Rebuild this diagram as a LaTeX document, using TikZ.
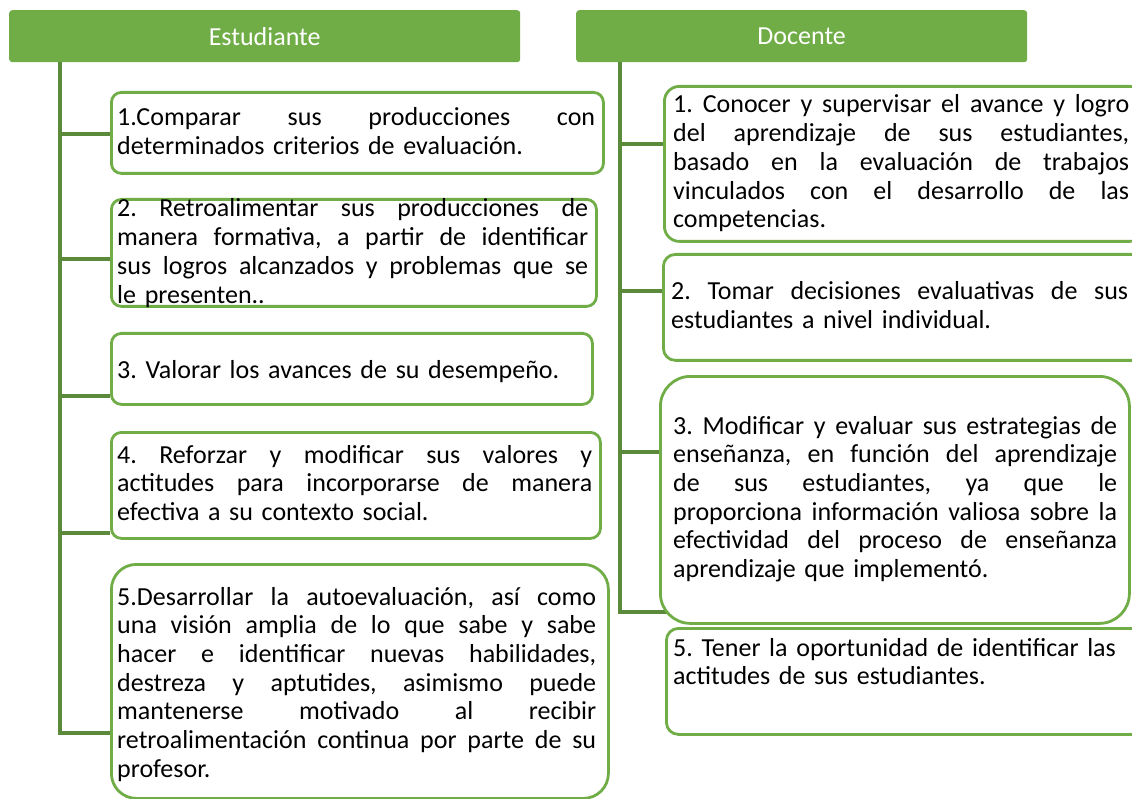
\documentclass[tikz,border=0pt]{standalone}
\usepackage{fontspec}
\setmainfont{Carlito}
\usetikzlibrary{backgrounds}
\definecolor{grn}{HTML}{70AD47}
\definecolor{dgrn}{HTML}{5A8A3A}
\frenchspacing
\newcommand\jl[2]{\leavevmode\hbox to #1pt{\spaceskip=\fontdimen2\font plus 1fil\relax #2}}
\newcommand\bodyfont{\fontsize{26}{28.7}\selectfont\frenchspacing}
\tikzset{
  head/.style={fill=grn, rounded corners=3pt, text=white, font=\bodyfont, anchor=north west, inner sep=0pt},
  box/.style={draw=grn, line width=2.8pt, fill=white, anchor=north west, inner sep=0pt},
  txt/.style={anchor=base west, inner sep=0pt, align=left, font=\bodyfont, text=black},
  conn/.style={draw=dgrn, line width=3.2pt}
}
\begin{document}
\begin{tikzpicture}[x=1pt,y=-1pt]
\useasboundingbox (0,0) rectangle (1132,799);
\clip (0,0) rectangle (1132,799);
% headers
\node[head, minimum width=511pt, minimum height=52pt] (est) at (9,10) {Estudiante};
\node[head, minimum width=451pt, minimum height=52pt] (doc) at (576,10) {Docente};
% left boxes
\node[box, rounded corners=10pt, minimum width=492pt, minimum height=81pt] (s1) at (110,91) {};
\node[box, rounded corners=10pt, minimum width=485pt, minimum height=107pt] (s2) at (110,198) {};
\node[box, rounded corners=10pt, minimum width=481pt, minimum height=71pt] (s3) at (110,332) {};
\node[box, rounded corners=10pt, minimum width=489pt, minimum height=106pt] (s4) at (110,431) {};
\node[box, rounded corners=25pt, minimum width=497pt, minimum height=234pt] (s5) at (110,563) {};
% right boxes
\node[box, rounded corners=15pt, minimum width=480pt, minimum height=155pt] (d1) at (663,85) {};
\node[box, rounded corners=12pt, minimum width=480pt, minimum height=106pt] (d2) at (662,253) {};
\node[box, rounded corners=30pt, minimum width=469pt, minimum height=247pt] (d3) at (659,375) {};
\node[box, rounded corners=12pt, minimum width=478pt, minimum height=106pt] (d5) at (665,627) {};
% texts left
\node[txt, text width=478pt] (s1t) at (117,126) {\jl{478}{1.Comparar sus producciones con}\\determinados criterios de evaluación.};
\node[txt, text width=471pt] (s2t) at (117,217) {\jl{471}{2. Retroalimentar sus producciones de}\\\jl{471}{manera formativa, a partir de identificar}\\\jl{471}{sus logros alcanzados y problemas que se}\\le presenten..};
\node[txt, text width=471pt] (s3t) at (117,378) {3. Valorar los avances de su desempeño.};
\node[txt, text width=475pt] (s4t) at (117,463) {\jl{475}{4. Reforzar y modificar sus valores y}\\\jl{475}{actitudes para incorporarse de manera}\\efectiva a su contexto social.};
\node[txt, text width=479pt] (s5t) at (117,605) {\jl{479}{5.Desarrollar la autoevaluación, así como}\\\jl{479}{una visión amplia de lo que sabe y sabe}\\\jl{479}{hacer e identificar nuevas habilidades,}\\\jl{479}{destreza y aptutides, asimismo puede}\\\jl{479}{mantenerse motivado al recibir}\\\jl{479}{retroalimentación continua por parte de su}\\profesor.};
% texts right
\node[txt, text width=456pt] (d1t) at (673,113) {\jl{456}{1. Conocer y supervisar el avance y logro}\\\jl{456}{del aprendizaje de sus estudiantes,}\\\jl{456}{basado en la evaluación de trabajos}\\\jl{456}{vinculados con el desarrollo de las}\\competencias.};
\node[txt, text width=457pt] (d2t) at (671,300) {\jl{457}{2. Tomar decisiones evaluativas de sus}\\estudiantes a nivel individual.};
\node[txt, text width=444pt] (d3t) at (673,434) {\jl{444}{3. Modificar y evaluar sus estrategias de}\\\jl{444}{enseñanza, en función del aprendizaje}\\\jl{444}{de sus estudiantes, ya que le}\\\jl{444}{proporciona información valiosa sobre la}\\\jl{444}{efectividad del proceso de enseñanza}\\aprendizaje que implementó.};
\node[txt, text width=455pt] (d5t) at (673,656) {5. Tener la oportunidad de identificar las\\actitudes de sus estudiantes.};
% connectors
\coordinate (l1) at (60,134);
\coordinate (l2) at (60,259);
\coordinate (l3) at (60,396);
\coordinate (l4) at (60,533);
\coordinate (l5) at (60,733);
\coordinate (r1) at (620,144);
\coordinate (r2) at (620,291);
\coordinate (r3) at (620,452);
\coordinate (r4) at (620,612);
\begin{pgfonlayer}{background}
\draw[conn] (est.south -| l5) -- (l5) -- (l5 -| s5.west);
\draw[conn] (l1) -- (l1 -| s1.west);
\draw[conn] (l2) -- (l2 -| s2.west);
\draw[conn] (l3) -- (l3 -| s3.west);
\draw[conn] (l4) -- (l4 -| s4.west);
\draw[conn] (doc.south -| r4) -- (r4) -- ([xshift=8pt]r4 -| d3.west);
\draw[conn] (r1) -- (r1 -| d1.west);
\draw[conn] (r2) -- (r2 -| d2.west);
\draw[conn] (r3) -- (r3 -| d3.west);
\end{pgfonlayer}
\end{tikzpicture}
\end{document}
